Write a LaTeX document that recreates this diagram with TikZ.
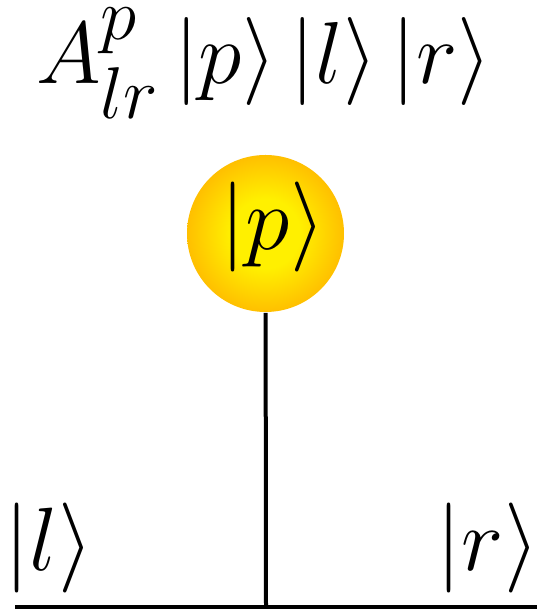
\documentclass[tikz,border=0pt]{standalone}
\usepackage{amsmath,amssymb}
\usetikzlibrary{positioning}
\definecolor{ballcore}{HTML}{FFF000}
\definecolor{ballmid}{HTML}{FFBC00}
\definecolor{ballrim}{HTML}{A0A262}
\pgfdeclareradialshading{ballshade}{\pgfpoint{0bp}{0bp}}{%
  color(0bp)=(ballcore); color(11bp)=(ballcore); color(26bp)=(ballmid);
  color(30bp)=(ballmid); color(37bp)=(ballmid!45!ballrim); color(43bp)=(ballrim);
  color(100bp)=(ballrim)}
\tikzset{
  ket/.style={font=\Huge,scale=0.904,transform shape,inner sep=0pt,anchor=base},
  amp/.style={font=\Huge,scale=0.884,transform shape,inner sep=0pt,anchor=base},
  ball/.style={circle,minimum size=39.25pt,inner sep=0pt,shading=ballshade},
  leg/.style={line width=1pt,color=black},
}
\begin{document}
\begin{tikzpicture}[x=0.25pt,y=0.25pt]
        \useasboundingbox (0,0) rectangle (537,609);
        \node[amp] (amp) at (264,525) {$A^p_{lr}\,|p\rangle\,|l\rangle\,|r\rangle$};
        \node[ball] (p) at (265.5,375.5) {};
        \node[ket] (pket) at (273,359) {$|p\rangle$};
        \node[ket] (lket) at (49,39) {$|l\rangle$};
        \node[ket] (rket) at (488,39) {$|r\rangle$};
        \coordinate (root) at (266,2);
        \coordinate (lend) at (15,2); \coordinate (rend) at (537,2);
        \draw[leg] (p) -- (root); \draw[leg] (lend) -- (rend);
      \end{tikzpicture}
\end{document}
